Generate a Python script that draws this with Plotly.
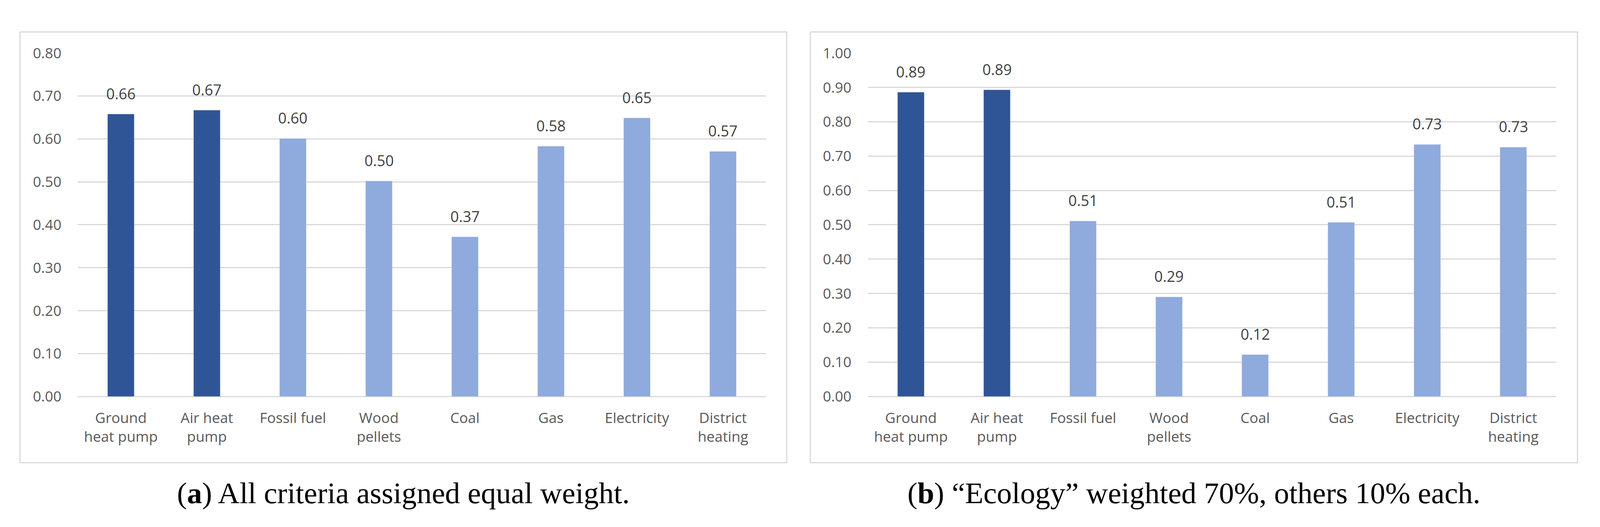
import plotly.graph_objects as go

# heating options (same order in both charts)
categories = ["Ground heat pump", "Air heat pump", "Fossil fuel", "Wood pellets",
              "Coal", "Gas", "Electricity", "District heating"]
tick_labels = ["Ground<br>heat pump", "Air heat<br>pump", "Fossil fuel", "Wood<br>pellets",
               "Coal", "Gas", "Electricity", "District<br>heating"]
heat_pumps = ["Ground heat pump", "Air heat pump"]

# (a) all criteria equal weight
scores_equal = [0.658, 0.667, 0.601, 0.502, 0.372, 0.583, 0.649, 0.571]
# (b) ecology weighted 70%
scores_ecology = [0.886, 0.893, 0.511, 0.290, 0.122, 0.507, 0.734, 0.726]

captions = ["(<b>a</b>) All criteria assigned equal weight.",
            "(<b>b</b>) \u201cEcology\u201d weighted 70%, others 10% each."]

# positions below are measured on the 4397 x 1348 reference and used as paper fractions,
# the figure itself just fills the browser window
W, H = 4397, 1348
dark, light = "#2F5597", "#8FAADC"
grid = "#D9D9D9"
colors = [dark if c in heat_pumps else light for c in categories]

fig = go.Figure()
fig.add_trace(go.Bar(x=categories, y=scores_equal, marker_color=colors,
                     xaxis="x", yaxis="y", showlegend=False, hoverinfo="x+y"))
fig.add_trace(go.Bar(x=categories, y=scores_ecology, marker_color=colors,
                     xaxis="x2", yaxis="y2", showlegend=False, hoverinfo="x+y"))

annotations = []
for xr, yr, vals in [("x", "y", scores_equal), ("x2", "y2", scores_ecology)]:
    for c, v in zip(categories, vals):
        annotations.append(dict(x=c, y=v, xref=xr, yref=yr, text=f"{v:.2f}",
                                showarrow=False, yanchor="bottom", yshift=25,
                                font=dict(family="Open Sans", size=38, color="#404040")))

# captions under each panel
for xc, txt in zip([1108 / W, 3281 / W], captions):
    annotations.append(dict(x=xc, y=(H - 1283) / H, xref="paper", yref="paper",
                            text=txt, showarrow=False, xanchor="center", yanchor="middle",
                            font=dict(family="Liberation Serif", size=77, color="black")))

# light grey frame round each chart
shapes = []
for x0, x1 in [(55, 2162), (2227, 4335)]:
    shapes.append(dict(type="rect", xref="paper", yref="paper",
                       x0=x0 / W, x1=x1 / W, y0=(H - 1202) / H, y1=(H - 57) / H,
                       line=dict(color=grid, width=3), fillcolor="rgba(0,0,0,0)"))

ydom = [(H - 1026) / H, (H - 113) / H]
xaxis_style = dict(tickmode="array", tickvals=categories, ticktext=tick_labels,
                   showline=False, showgrid=False, zeroline=False, ticks="",
                   ticklabelstandoff=30, tickangle=0, fixedrange=True)
yaxis_style = dict(showgrid=True, gridcolor=grid, gridwidth=3, zeroline=True,
                   zerolinecolor=grid, zerolinewidth=3, showline=False, ticks="",
                   tickformat=".2f", dtick=0.1, ticklabelstandoff=41, fixedrange=True)

fig.update_layout(
    autosize=True,
    margin=dict(l=0, r=0, t=0, b=0),
    paper_bgcolor="white", plot_bgcolor="white",
    font=dict(family="Open Sans", size=37, color="#595959"),
    bargap=0.69,
    xaxis=dict(domain=[214 / W, 2105 / W], anchor="y", **xaxis_style),
    yaxis=dict(domain=ydom, anchor="x", range=[0, 0.8], **yaxis_style),
    xaxis2=dict(domain=[2385 / W, 4277 / W], anchor="y2", **xaxis_style),
    yaxis2=dict(domain=ydom, anchor="x2", range=[0, 1.0], **yaxis_style),
    annotations=annotations,
    shapes=shapes,
)

# drop the default body margin so the chart fills the window exactly
fit = """
document.body.style.margin = '0';
document.body.style.overflow = 'hidden';
var gd = document.getElementById('{plot_id}');
Plotly.Plots.resize(gd);
"""

fig.write_html("out.html", default_width="100vw", default_height="100vh",
               config={"responsive": True, "displayModeBar": False}, post_script=fit)
